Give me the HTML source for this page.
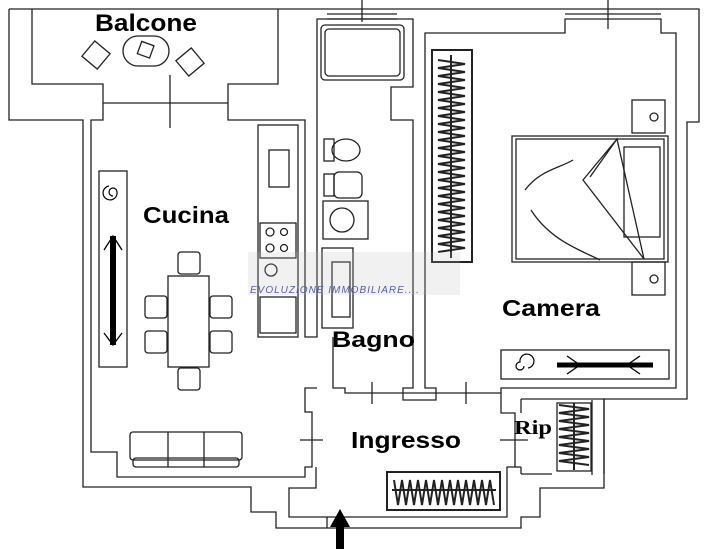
<!DOCTYPE html>
<html><head><meta charset="utf-8"><style>
html,body{margin:0;padding:0;background:#fff;}
svg{display:block;}
text{font-family:"Liberation Sans",sans-serif;font-weight:bold;fill:#000;}
</style></head><body>
<svg width="708" height="549" viewBox="0 0 708 549" xmlns="http://www.w3.org/2000/svg">
<g fill="none" stroke="#222" stroke-width="1.3">
<polyline points="9,9 699,9 699,122 687,122 687,399 604,399 604,488 540,488 540,517 521,517 521,528 276,528 276,512 251,512 251,487 83,487 83,120 9,120 9,9"/>
<polyline points="32,9 32,84 103,84 103,120 91,120 91,452 117,452 117,477 305,477 305,467 312,467 312,412 305,412 305,388 317,388"/>
<polyline points="278,9 278,84 228,84 228,120 305,120 305,337 317,337 317,19 413,19 413,87 391,87 391,120 413,120 413,332"/>
<line x1="103" y1="103" x2="228" y2="103"/>
<line x1="170" y1="75" x2="170" y2="128"/>
<polyline points="333,337 333,388 345,388 345,393 501,393 501,413 515,413 515,467 507,467 507,517 289,517 289,488 316,488 316,467"/>
<polyline points="413,332 413,388 403,388 403,400 436,400 436,388 425,388 425,33 565,33 565,19 661,19 661,33 676,33 676,388 501,388 501,393"/>
<polyline points="521,399 604,399 604,474"/>
<polyline points="521,413 521,399"/>
<line x1="521" y1="474" x2="552" y2="474"/>
<line x1="515" y1="467" x2="521" y2="467"/>
<line x1="521" y1="467" x2="521" y2="474"/>
<line x1="592" y1="400" x2="592" y2="475"/>
<line x1="327" y1="14" x2="397" y2="14"/><line x1="327" y1="19" x2="397" y2="19"/>
<line x1="362" y1="0" x2="362" y2="22"/>
<line x1="565" y1="14" x2="661" y2="14"/>
<line x1="608" y1="0" x2="608" y2="29"/>
<line x1="372" y1="382" x2="372" y2="404"/><line x1="466" y1="382" x2="466" y2="404"/>
<line x1="300" y1="440" x2="323" y2="440"/><line x1="500" y1="440" x2="528" y2="440"/>
<line x1="327" y1="517" x2="327" y2="528"/>
<rect x="258" y="125" width="40" height="212"/>
<rect x="269" y="150" width="20" height="37"/>
<rect x="260" y="223" width="36" height="35"/>
<circle cx="270" cy="232" r="4"/><circle cx="284" cy="232" r="3.5"/><circle cx="270" cy="248" r="4"/><circle cx="284" cy="248" r="3.5"/>
<circle cx="271" cy="270" r="6"/>
<rect x="260" y="297" width="36" height="36"/>
<rect x="99" y="171" width="28" height="196"/>
<rect x="168" y="276" width="41" height="91"/>
<rect x="178" y="252" width="22" height="22" rx="3"/><rect x="178" y="368" width="22" height="22" rx="3"/>
<rect x="145" y="296" width="22" height="22" rx="3"/><rect x="145" y="331" width="22" height="22" rx="3"/>
<rect x="210" y="296" width="22" height="22" rx="3"/><rect x="210" y="331" width="22" height="22" rx="3"/>
<rect x="130" y="432" width="112" height="28" rx="3"/>
<line x1="168" y1="432" x2="168" y2="467"/><line x1="204" y1="432" x2="204" y2="467"/>
<rect x="133" y="458" width="106" height="9" rx="3"/>
<rect x="123" y="36" width="46" height="30" rx="15"/>
<rect x="139" y="43" width="13" height="13" transform="rotate(20 145 50)"/>
<rect x="86" y="45" width="20" height="20" transform="rotate(40 96 55)"/>
<rect x="180" y="52" width="20" height="20" transform="rotate(-40 190 62)"/>
<rect x="321" y="25" width="83" height="55" rx="4"/>
<rect x="325" y="29" width="75" height="47" rx="4"/>
<rect x="324" y="139" width="10" height="22"/><ellipse cx="346" cy="150" rx="14" ry="11"/>
<rect x="324" y="174" width="10" height="22"/><rect x="334" y="172" width="28" height="26" rx="5"/>
<rect x="323" y="201" width="45" height="38"/><circle cx="342" cy="220" r="12"/>
<rect x="322" y="248" width="31" height="80"/><rect x="332" y="262" width="18" height="55"/>
<rect x="432" y="50" width="40" height="212" stroke-width="2"/>
<rect x="632" y="100" width="33" height="33"/><rect x="632" y="262" width="33" height="33"/>
<circle cx="654" cy="117" r="4"/><circle cx="654" cy="279" r="4"/>
<rect x="512" y="136" width="156" height="126"/><rect x="516" y="139" width="148" height="120"/>
<polyline points="617,139 583,180 644,259 617,139 590,177"/>
<rect x="624" y="147" width="36" height="90"/>
<path d="M525,190 C540,170 560,168 573,160 M531,210 C550,240 580,250 600,260"/>
<rect x="501" y="350" width="168" height="29"/>
<rect x="387" y="472" width="113" height="38" stroke-width="2"/>
<rect x="557" y="403" width="34" height="68"/>
</g>
<g fill="none" stroke="#222" stroke-width="2">
<polyline points="438,60 465,64 438,68 465,72 438,76 465,80 438,84 465,88 438,92 465,96 438,100 465,104 438,108 465,112 438,116 465,120 438,124 465,128 438,132 465,136 438,140 465,144 438,148 465,152 438,156 465,160 438,164 465,168 438,172 465,176 438,180 465,184 438,188 465,192 438,196 465,200 438,204 465,208 438,212 465,216 438,220 465,224 438,228 465,232 438,236 465,240 438,244 465,248 438,252"/>
<line x1="451" y1="55" x2="451" y2="258"/>
<polyline points="394,480 398,505 402,480 406,505 410,480 414,505 418,480 422,505 426,480 430,505 434,480 438,505 442,480 446,505 450,480 454,505 458,480 462,505 466,480 470,505 474,480 478,505 482,480 486,505 490,480 494,505"/>
<line x1="392" y1="490" x2="496" y2="490"/>
<polyline points="559,405 589,409 559,413 589,417 559,421 589,425 559,429 589,433 559,437 589,441 559,445 589,449 559,453 589,457 559,461 589,465"/>
<line x1="574" y1="403" x2="574" y2="470"/>
</g>
<g stroke="#000" fill="none">
<line x1="113" y1="236" x2="113" y2="345" stroke-width="6"/>
<path d="M104,250 L113,236 L122,250 M104,333 L113,345 L122,333" stroke-width="1.3"/>
<line x1="557" y1="365" x2="653" y2="365" stroke-width="5"/>
<path d="M567,356 L580,365 L567,374 M640,356 L627,365 L640,374" stroke-width="1.3"/>
<path d="M113,196 a4,4 0 1 1 4,-4 a7,7 0 1 1 -8,-6" stroke-width="1.2"/>
<path d="M524,366 a4,4 0 1 1 -4,-4 a7,7 0 1 1 8,6" stroke-width="1.2"/>
</g>
<rect x="248" y="252" width="212" height="43" fill="#bbb" opacity="0.2"/>
<text x="250" y="293" font-size="10" font-style="italic" style="font-weight:normal;fill:#5560a0;letter-spacing:1px">EVOLUZIONE IMMOBILIARE....</text>
<polygon points="340,509 350,527 344,527 344,549 336,549 336,527 330,527" fill="#000"/>
<text x="95" y="31" font-size="24" textLength="102" lengthAdjust="spacingAndGlyphs">Balcone</text>
<text x="143" y="223" font-size="23" textLength="86" lengthAdjust="spacingAndGlyphs">Cucina</text>
<text x="332" y="347" font-size="22" textLength="83" lengthAdjust="spacingAndGlyphs">Bagno</text>
<text x="502" y="316" font-size="23" textLength="98" lengthAdjust="spacingAndGlyphs">Camera</text>
<text x="351" y="448" font-size="23" textLength="110" lengthAdjust="spacingAndGlyphs">Ingresso</text>
<text x="514" y="434" font-size="20" textLength="38" lengthAdjust="spacingAndGlyphs" style="font-family:'Liberation Serif',serif">Rip</text>
</svg>
</body></html>
